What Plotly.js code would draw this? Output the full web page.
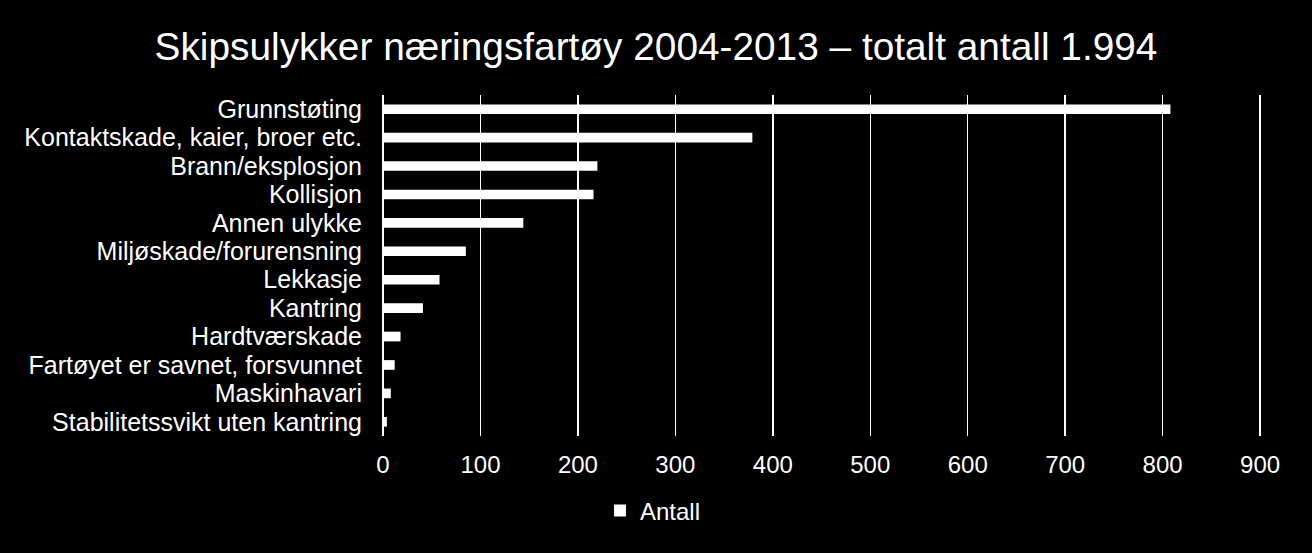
<!DOCTYPE html>
<html>
<head>
<meta charset="utf-8">
<script src="https://cdn.plot.ly/plotly-3.0.1.min.js"></script>
<style>
  html, body { margin: 0; padding: 0; background: #000; }
  #chart { width: 1312px; height: 553px; }
</style>
</head>
<body>
<div id="chart"></div>
<script>
const categories = [
  "Grunnstøting",
  "Kontaktskade, kaier, broer etc.",
  "Brann/eksplosjon",
  "Kollisjon",
  "Annen ulykke",
  "Miljøskade/forurensning",
  "Lekkasje",
  "Kantring",
  "Hardtværskade",
  "Fartøyet er savnet, forsvunnet",
  "Maskinhavari",
  "Stabilitetssvikt uten kantring"
];
const antall = [808, 379, 220, 216, 144, 85, 58, 41, 18, 12, 8, 4];
const xTicks = [0, 100, 200, 300, 400, 500, 600, 700, 800, 900];

const FONT = '"Liberation Sans", Arial, sans-serif';

const trace = {
  type: 'bar',
  orientation: 'h',
  name: 'Antall',
  x: antall,
  y: categories,
  marker: { color: '#ffffff', line: { width: 0 } },
  hoverinfo: 'x+y'
};

const layout = {
  width: 1312,
  height: 553,
  paper_bgcolor: '#000000',
  plot_bgcolor: '#000000',
  font: { family: FONT, color: '#ffffff', size: 24 },
  margin: { l: 382.5, r: 49.4, t: 94.8, b: 116.7, pad: 0 },
  title: {
    text: 'Skipsulykker næringsfartøy 2004-2013 – totalt antall 1.994',
    font: { family: FONT, size: 38.8, color: '#ffffff' },
    x: 0.5, xref: 'container', xanchor: 'center',
    y: 1 - 46 / 553, yref: 'container', yanchor: 'middle'
  },
  bargap: 0.66,
  xaxis: {
    range: [0, 903],
    tickmode: 'array',
    tickvals: xTicks,
    ticktext: xTicks.map(String),
    showgrid: true,
    gridcolor: '#ffffff',
    gridwidth: 1.5,
    zeroline: true,
    zerolinecolor: '#ffffff',
    zerolinewidth: 1.5,
    showline: false,
    ticks: '',
    ticklabelstandoff: 12,
    tickfont: { family: FONT, size: 24, color: '#ffffff' },
    fixedrange: true
  },
  yaxis: {
    type: 'category',
    autorange: 'reversed',
    tickmode: 'array',
    tickvals: categories,
    ticktext: categories,
    showgrid: false,
    zeroline: false,
    showline: false,
    ticks: '',
    ticklabelstandoff: 20,
    tickfont: { family: FONT, size: 25, color: '#ffffff' },
    fixedrange: true
  },
  showlegend: true,
  legend: {
    orientation: 'h',
    xref: 'container', x: 0.5 - 3 / 1312, xanchor: 'center',
    yref: 'container', y: 1 - 511 / 553, yanchor: 'middle',
    font: { family: FONT, size: 24, color: '#ffffff' },
    bgcolor: 'rgba(0,0,0,0)'
  }
};

Plotly.newPlot('chart', [trace], layout, { displayModeBar: false, staticPlot: true });
</script>
</body>
</html>
